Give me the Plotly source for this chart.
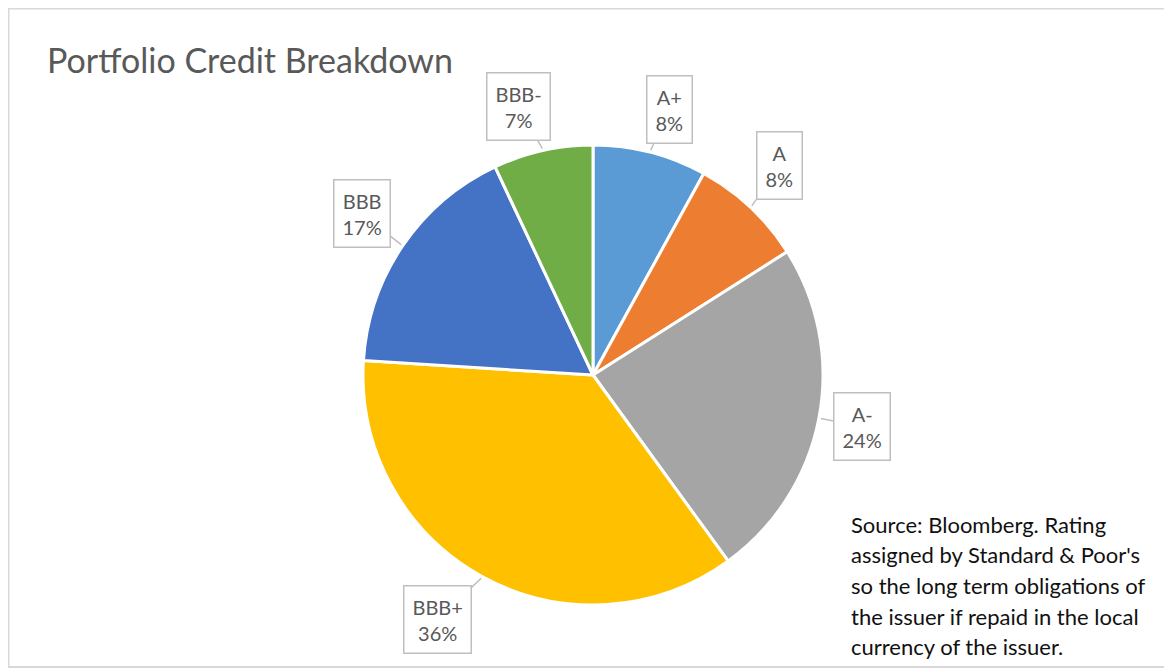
import math
import plotly.graph_objects as go

# ---- data ----
ratings = ["A+", "A", "A-", "BBB+", "BBB", "BBB-"]
shares = [8, 8, 24, 36, 17, 7]
colors = ["#5B9BD5", "#ED7D31", "#A5A5A5", "#FFC000", "#4472C4", "#70AD47"]
title_text = "Portfolio Credit Breakdown"
source_lines = [
    "Source: Bloomberg. Rating",
    "assigned by Standard &amp; Poor's",
    "so the long term obligations of",
    "the issuer if repaid in the local",
    "currency of the issuer.",
]

# ---- layout constants ----
OFF = 8                              # page body margin
W, H = 1172 - OFF, 669 - OFF
CX, CY, R = 593 - OFF, 375 - OFF, 230   # pie centre / radius in figure pixels
FONT = "Lato, 'Open Sans', sans-serif"
# callout box offsets (pixels) from the slice edge point
label_offsets = [(19, -41), (28, -40), (41, 8), (-44, 41), (-39, -31), (-24, -42)]

fig = go.Figure()
fig.add_trace(go.Pie(
    labels=ratings,
    values=shares,
    marker=dict(colors=colors, line=dict(color="white", width=3)),
    sort=False,
    direction="clockwise",
    rotation=0,
    textinfo="none",
    textposition="none",
    hoverinfo="label+percent",
    showlegend=False,
    domain=dict(x=[(CX - R) / W, (CX + R) / W],
                y=[1 - (CY + R) / H, 1 - (CY - R) / H]),
))

annotations = []
total = sum(shares)
cum = 0
for lab, v, (ox, oy) in zip(ratings, shares, label_offsets):
    mid = (cum + v / 2) / total
    cum += v
    ang = 2 * math.pi * mid
    px = CX + (R + 2) * math.sin(ang)
    py = CY - (R + 2) * math.cos(ang)
    pct = round(100 * v / total)
    annotations.append(dict(
        x=px / W, y=1 - py / H, xref="paper", yref="paper",
        text=f"{lab}<br>{pct}%",
        showarrow=True, arrowhead=0, arrowwidth=1.5, arrowcolor="#BFBFBF",
        ax=ox, ay=oy,
        font=dict(family=FONT, size=20, color="#595959"),
        bordercolor="#BFBFBF", borderwidth=1.5, borderpad=8, bgcolor="white",
        align="center",
    ))

annotations.append(dict(
    x=(45 - OFF) / W, y=1 - (60 - OFF) / H, xref="paper", yref="paper",
    xanchor="left", yanchor="middle", showarrow=False,
    text=title_text,
    font=dict(family=FONT, size=34, color="#595959"),
))

for i, line in enumerate(source_lines):
    annotations.append(dict(
        x=(849 - OFF) / W, y=1 - (524 - OFF + 30.7 * i) / H, xref="paper", yref="paper",
        xanchor="left", yanchor="middle", showarrow=False,
        text=line,
        font=dict(family=FONT, size=22, color="#111111"),
    ))

fig.update_layout(
    width=W, height=H,
    margin=dict(l=0, r=0, t=0, b=0),
    paper_bgcolor="white", plot_bgcolor="white",
    annotations=annotations,
    shapes=[dict(type="rect", xref="paper", yref="paper",
                 x0=0.5 / W, x1=1.02, y0=1 - (667 - OFF) / H, y1=1 - 0.5 / H,
                 line=dict(color="#D9D9D9", width=2), fillcolor="rgba(0,0,0,0)",
                 layer="below")],
)

fig.write_html("out.html")
